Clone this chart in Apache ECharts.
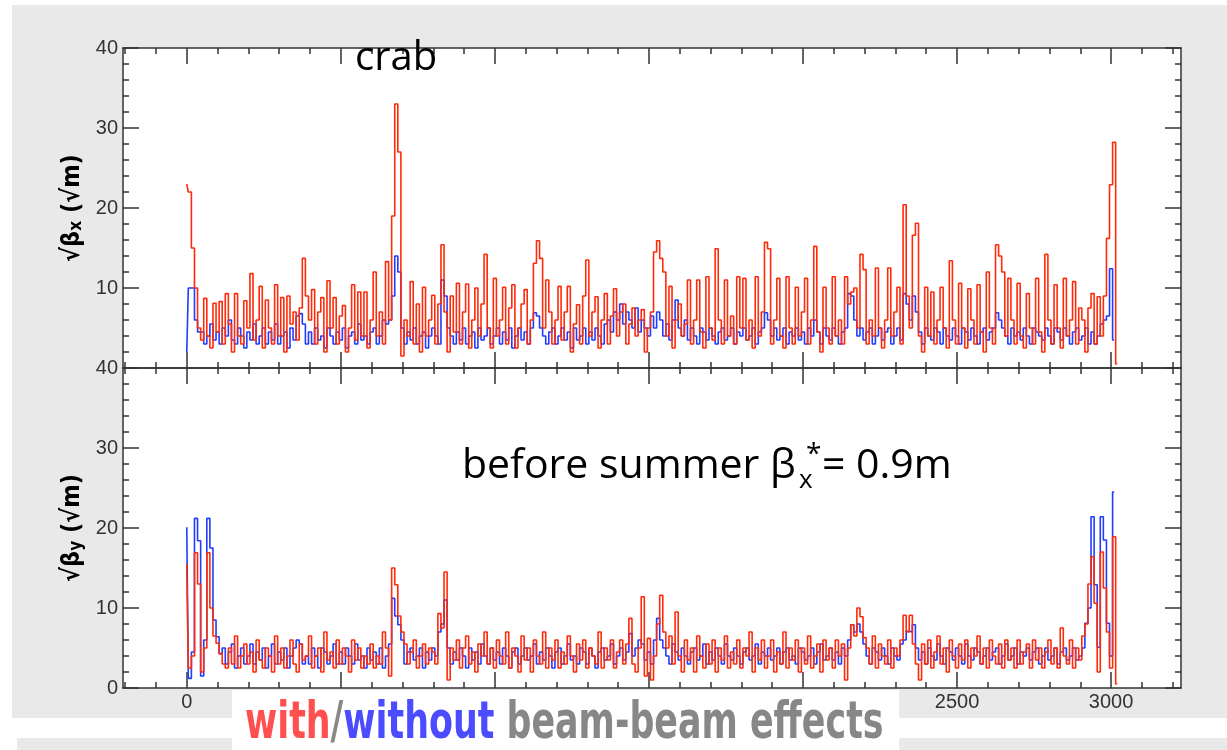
<!DOCTYPE html>
<html><head><meta charset="utf-8">
<script src="https://cdn.jsdelivr.net/npm/echarts@6/dist/echarts.min.js"></script>
<style>html,body{margin:0;padding:0;background:#fff}#c{width:1227px;height:750px}</style>
</head><body><div id="c"></div>
<script>
// sampling step along s (one value every STEP units, starting at 0)
const STEP = 10;

// sqrt(beta_x), with beam-beam (red)
const redX = [
23, 22, 15, 10, 5, 3.5, 8.7, 4, 2.5, 8.1,
4.5, 8.3, 3, 9.3, 5.5, 2, 9.3, 4, 3, 8.4,
5, 11.8, 3.5, 6, 10.2, 2.5, 8.5, 5, 3, 10.4,
4, 8.8, 2, 9, 5.5, 7, 3.5, 7.5, 13.7, 9,
6, 9.8, 3, 7, 8.8, 2, 10.9, 5, 8.8, 3,
6.5, 7.8, 2, 5, 10.4, 3.5, 9.5, 4, 9.5, 2.5,
6, 12, 4, 7, 3, 13.3, 6, 19, 33, 27,
1.5, 6, 4, 10.8, 3, 8, 2, 10.1, 4, 6,
9.1, 3, 8, 15.4, 7, 2, 9, 4.5, 10.6, 3,
7, 10.5, 2.5, 6, 10, 4, 8, 14.2, 5, 2.5,
11.2, 4, 6, 10.1, 3, 7.5, 10.4, 2.5, 5, 8,
9.8, 3, 6, 13.1, 15.9, 13.7, 5, 11, 7, 3,
6, 10.2, 3.5, 7, 10.2, 2, 5.5, 7.9, 3, 9,
13.5, 4, 7, 8.9, 2.5, 6, 9.3, 3, 6.5, 9.9,
4, 7, 8, 3, 5.5, 7.5, 4, 6, 7.3, 2,
5, 7, 14.5, 15.9, 13.7, 12, 4, 10.2, 2.5, 6,
8, 4, 5.5, 11, 3, 6, 11, 4.5, 2.5, 11.4,
5, 3.5, 14.9, 6, 3, 11, 4, 6.5, 3, 11.4,
5, 11.2, 3.5, 6, 2.5, 11.4, 4, 7, 15.7, 14.9,
3, 6, 11.2, 4, 2.5, 11.4, 5, 3, 10.1, 4,
7, 11.2, 3, 6, 15.2, 4.5, 2, 10.1, 5, 3,
11.4, 4, 6, 3, 11.4, 8, 9.5, 10, 5, 14.2,
12.3, 3, 6, 4, 12.5, 5, 2.5, 6, 12.5, 4,
7, 10.1, 3, 20.4, 9, 5, 16.6, 18.1, 4, 2,
10.1, 4, 9.5, 3, 6, 10.1, 5, 2.5, 13.4, 6,
3, 10.6, 5, 2.5, 9.9, 6, 3, 10.4, 4.5, 2,
12, 5, 3, 15.4, 14, 12, 4, 11.2, 6, 3,
10.6, 4, 2.5, 9.3, 5, 3, 11.2, 4.5, 2, 14.2,
6, 3, 10.4, 5, 2.5, 11.2, 4, 6, 10.8, 3,
7.5, 6, 2, 7.5, 9.3, 3, 8.9, 4, 9, 16.2,
22.9, 28.2, 0.5
];

// sqrt(beta_x), without beam-beam (blue)
const blueX = [
2, 10, 10, 6, 4.5, 4.5, 3, 4, 5.5, 3.5,
4.5, 3, 5, 4, 6, 3.5, 3, 5, 4, 2.5,
4.5, 3.5, 5.5, 3, 4, 5, 3, 4.5, 3.5, 5.5,
3, 4, 4.5, 2.5, 5, 3.5, 6.5, 6.8, 5.5, 3,
4.5, 3, 5, 3.5, 4, 2.5, 5, 4, 3, 4.5,
3.5, 5, 2.5, 4, 4.5, 3, 5.5, 3.5, 4, 3,
4.5, 5, 3, 4, 6, 5.5, 6, 9, 14, 12,
5, 3, 4.5, 3.5, 5, 3, 4, 4.5, 2.5, 4,
5, 4, 3, 11, 9, 5, 4, 3, 4.5, 3.5,
5, 3, 4, 4.5, 2.5, 5, 3.5, 4, 5, 3,
4, 5, 3, 4.5, 3.5, 5, 2.5, 4, 5, 3.5,
4.5, 3, 5, 6.9, 6.5, 5, 4, 3, 4.5, 5,
3, 4, 5, 3.5, 4.5, 2.5, 5, 3.5, 4, 5,
3, 4.5, 3.5, 5, 4, 3, 5.5, 6, 4.5, 7,
6, 8, 5.5, 7, 6, 5, 7.5, 4.5, 6, 5,
4, 6.5, 5, 7, 6, 4, 5.5, 3.5, 6, 8.5,
5, 4, 6, 3.5, 5, 4, 3, 5, 4.5, 3.5,
5, 4, 3, 4.5, 5, 3.5, 4, 5, 3, 4.5,
4, 5, 3.5, 4, 5, 3, 4.5, 5, 6.9, 6,
4, 5, 3.5, 4, 5, 3, 4.5, 4, 5, 3.5,
4.5, 3, 5, 4, 6, 4.5, 3, 5, 4, 3.5,
5, 4, 3, 4.5, 5, 9.3, 9, 6, 4, 5,
3.5, 4.5, 5, 3, 4, 5, 3.5, 4.5, 5, 3,
4, 5, 3.5, 9.3, 8, 6, 9, 7, 4.5, 3,
5, 4, 3.5, 5, 4.5, 3, 5, 4, 3.5, 5,
4, 3, 5, 4.5, 3.5, 5, 4, 3, 4.5, 5,
3.5, 4.5, 5, 6.9, 6, 5, 4, 3, 5, 4,
4.5, 3.5, 5, 4, 3, 5, 4.5, 4, 3.5, 5,
4, 3, 5, 4.5, 3.5, 5, 4, 3, 4.5, 5,
3.5, 4, 5, 3, 4.5, 3, 4, 5.5, 6, 6.5,
12.4, 3.5
];

// sqrt(beta_y), with beam-beam (red)
const redY = [
15.5, 2.5, 4, 16.9, 13, 2, 5, 16.9, 10, 6.5,
5.6, 4.3, 3, 2.5, 5, 3, 6.5, 2.5, 4, 5.5,
3, 4.5, 2, 6, 3.5, 2.5, 5, 4, 2, 6.5,
3, 5, 2.5, 4, 6, 3, 2, 5.5, 3.5, 4,
6.5, 2.5, 4, 5, 2, 7, 3.5, 4.5, 2.5, 6,
3, 5, 4, 2, 6, 3.5, 5, 2.5, 4, 3,
5.5, 2.5, 4, 3, 7, 5, 1.5, 15, 12.9, 9,
7, 5.5, 3, 4.5, 6, 2.5, 4, 5.5, 3, 5,
4.5, 3, 9.3, 7.5, 14.5, 1, 5, 3.5, 6, 2.5,
5, 6.5, 3, 4.5, 2, 5.5, 4, 7, 3, 5,
2.5, 6, 4, 3, 7, 2.5, 5, 4, 2, 6.5,
3.5, 5, 2, 6, 4, 3, 7, 2.5, 5, 3.5,
6, 2.5, 4.5, 3, 6.5, 4, 2, 5.5, 3.5, 6,
2.5, 5, 4, 3, 7, 2.5, 5, 3.5, 6, 2.5,
4.5, 6, 3, 5.5, 8.7, 3, 2, 5, 11.4, 1.5,
6.2, 1, 4, 8, 11.6, 7, 5, 6.5, 3, 9.5,
4, 2, 6, 3.5, 5, 2, 6.5, 4, 2.5, 5.5,
3, 6, 2, 5, 3.5, 6.5, 2.5, 4.5, 3, 6,
2.5, 5, 4, 7, 2, 5, 3.5, 6, 2.5, 4,
6, 2, 4.5, 3, 7, 2.5, 5, 3.5, 6, 2,
5, 3, 6.5, 2.5, 4, 5.5, 2, 6, 3.5, 5,
2.5, 6, 4, 5.5, 1, 5, 7.9, 6.5, 10, 8.9,
6.3, 5, 3, 6.5, 2.5, 5.5, 4, 3, 6, 2.5,
5, 4, 6, 9.1, 7, 9.1, 5.5, 3, 1, 5.5,
3, 6, 2.5, 4.5, 6.5, 3, 5, 2, 6, 4,
2.5, 5.5, 3.5, 6, 2.5, 5, 4, 6.5, 3, 5,
2.5, 6, 4, 3, 5.5, 2.5, 6, 3.5, 5, 2.5,
6, 3, 4.5, 5.5, 2.5, 6, 3.5, 5, 2.5, 4.5,
6, 3, 5, 2.5, 7.5, 4, 3, 6, 2.5, 5,
3.5, 6.5, 8, 13, 16.4, 10.6, 2, 17, 12.5, 7,
2.5, 18.9, 0.5
];

// sqrt(beta_y), without beam-beam (blue)
const blueY = [
20.1, 1.2, 4.5, 21.2, 18.4, 1.5, 6, 21.2, 17.5, 8.5,
6.4, 4.3, 5, 3, 4.5, 5.5, 2.5, 4, 5, 3,
4, 5.5, 3, 4.5, 3.5, 5, 2.5, 4, 5.5, 3,
4.5, 3.5, 5, 2.5, 4, 5, 6, 5.5, 3, 4,
3, 5, 4, 2.5, 5, 4.5, 3, 4, 5.5, 3,
4.5, 3, 5, 4, 3, 5.5, 3.5, 4, 2.5, 5,
3.5, 4.5, 3, 5, 2.5, 4, 5.5, 11.2, 9, 7.9,
6, 3, 4.5, 5, 3.5, 4, 5, 2.5, 4.5, 3.5,
5, 4, 7, 8, 11, 5, 3, 4.5, 3.5, 5,
4, 2.5, 5, 3.5, 4.5, 3, 5.5, 4, 3, 5,
3.5, 4.5, 3, 5, 4, 2.5, 4.5, 5, 3, 4,
5, 3.5, 4, 5.5, 3, 4.5, 3.5, 5, 4, 2.5,
4.5, 5, 3, 4, 5.5, 3.5, 4, 3, 5, 4.5,
3, 5, 4, 2.5, 4.5, 5, 3.5, 4, 5.5, 3,
4, 5, 3.5, 4.5, 6.8, 4, 5, 6, 5.5, 3.5,
4.5, 3, 6, 8.7, 6, 5, 4, 3, 5.5, 4.5,
3.5, 5, 4, 3, 4.5, 5, 3.5, 4, 5.5, 3,
4.5, 3.5, 5, 4, 3, 5.5, 4, 3.5, 5, 4,
3, 4.5, 5, 3.5, 4, 5.5, 3, 4.5, 4, 5,
3.5, 4, 5, 3, 4.5, 5, 3.5, 4, 3, 5,
4.5, 3.5, 4, 5, 3, 4.5, 5.5, 3.5, 4, 5,
3.5, 4.5, 3, 5, 4, 6, 7.9, 7, 8, 7,
5.5, 4, 3, 5, 4.5, 3.5, 5, 4, 3, 5,
4, 3.5, 5.5, 6, 7.1, 7, 7.9, 5, 3.5, 4.5,
3, 5, 4, 3.5, 5.5, 4, 3, 5, 4.5, 3.5,
5, 4, 3, 5.5, 4, 3.5, 5, 4.5, 3, 4,
5, 3.5, 4.5, 5, 3, 4, 5.5, 3.5, 4, 5,
3, 4.5, 4, 5, 3.5, 4.5, 5, 3, 4, 5,
3.5, 4, 5, 3, 4.5, 5, 3.5, 4, 5, 3.5,
4, 5, 8.1, 10, 21.4, 12.9, 5.1, 21.4, 18.5, 8.1,
4, 24.5
];

// axis ticks / labels
const xMajorTicks = [0, 500, 1000, 1500, 2000, 2500, 3000];
const yTickLabels = [0, 10, 20, 30, 40];
const X_MIN = -207, X_MAX = 3227;
const xMinorTicks = [];
for (let v = -200; v <= 3200; v += 100) xMinorTicks.push(v);

const toPairs = arr => arr.map((v, i) => [i * STEP, v]);

const AX = '#333';
const RED = '#ff2a0a';
const BLUE = '#1f3cff';
const LABEL_FONT = { fontSize: 20, color: '#333', fontFamily: 'Liberation Sans' };

function xAx(grid, pos, major, showLabel) {
  return {
    type: 'value', gridIndex: grid, position: pos, min: X_MIN, max: X_MAX,
    axisLine: { show: major, onZero: false, lineStyle: { color: AX, width: 1.5 } },
    axisTick: { show: true, inside: true, length: major ? 16 : 6,
      customValues: major ? xMajorTicks : xMinorTicks, lineStyle: { color: AX, width: 1.5 } },
    axisLabel: Object.assign({ show: showLabel, customValues: xMajorTicks, margin: 4,
      formatter: v => String(v) }, LABEL_FONT),
    splitLine: { show: false }
  };
}

const NAME_FONT = '"DejaVu Sans Condensed", "DejaVu Sans"';
const nameRich = {
  a: { fontSize: 25, fontWeight: 'bold', fontFamily: NAME_FONT, color: '#000' },
  s: { fontSize: 17, fontWeight: 'bold', fontFamily: NAME_FONT, color: '#000', verticalAlign: 'bottom', padding: [8, 0, 0, 0] }
};

function yAx(grid, pos, showLabel, name) {
  return {
    type: 'value', gridIndex: grid, position: pos, min: 0, max: 40, interval: 10,
    axisLine: { show: true, onZero: false, lineStyle: { color: AX, width: 1.5 } },
    axisTick: { show: true, inside: true, length: 16, lineStyle: { color: AX, width: 1.5 } },
    minorTick: { show: true, splitNumber: 5, length: 6, lineStyle: { color: AX, width: 1.5 } },
    axisLabel: Object.assign({ show: showLabel, margin: 5,
      formatter: v => (grid === 0 && v === 0) ? '' : String(v) }, LABEL_FONT),
    splitLine: { show: false },
    name: name || '', nameLocation: 'middle', nameRotate: 90, nameGap: 36,
    nameTextStyle: { rich: nameRich }
  };
}

function line(data, color, xi, yi, z) {
  return {
    type: 'line', data: toPairs(data), xAxisIndex: xi, yAxisIndex: yi,
    step: 'middle', symbol: 'none', silent: true, z: z,
    lineStyle: { color: color, width: 1.6 }, itemStyle: { color: color }
  };
}

const chart = echarts.init(document.getElementById('c'), null, { renderer: 'canvas' });
chart.setOption({
  animation: false,
  backgroundColor: '#e9e9e9',
  grid: [
    { left: 123, top: 48, width: 1058, height: 320, show: true, backgroundColor: '#fff', borderWidth: 0 },
    { left: 123, top: 368, width: 1058, height: 320, show: true, backgroundColor: '#fff', borderWidth: 0 }
  ],
  xAxis: [
    xAx(0, 'bottom', true, false), xAx(0, 'bottom', false, false),
    xAx(0, 'top', true, false), xAx(0, 'top', false, false),
    xAx(1, 'bottom', true, true), xAx(1, 'bottom', false, false),
    xAx(1, 'top', true, false), xAx(1, 'top', false, false)
  ],
  yAxis: [
    yAx(0, 'left', true, '{a|√β}{s|x}{a| (√m)}'), yAx(0, 'right', false),
    yAx(1, 'left', true, '{a|√β}{s|y}{a| (√m)}'), yAx(1, 'right', false)
  ],
  series: [
    line(blueX, BLUE, 0, 0, 2),
    line(redX, RED, 0, 0, 3),
    line(blueY, BLUE, 4, 2, 2),
    line(redY, RED, 4, 2, 3)
  ],
  graphic: [
    { type: 'rect', shape: { x: 0, y: 0, width: 1227, height: 5 }, style: { fill: '#fff' }, z: 50 },
    { type: 'rect', shape: { x: 0, y: 0, width: 12, height: 750 }, style: { fill: '#fff' }, z: 50 },
    { type: 'rect', shape: { x: 0, y: 718, width: 1227, height: 20 }, style: { fill: '#fff' }, z: 50 },
    { type: 'rect', shape: { x: 0, y: 738, width: 17, height: 12 }, style: { fill: '#fff' }, z: 50 },
    { type: 'rect', shape: { x: 232, y: 690, width: 667, height: 60 }, style: { fill: '#fff' }, z: 100 },
    { type: 'text', x: 245, y: 724, scaleX: 0.745, z: 101,
      style: {
        text: '{r|with}{g|/}{b|without}{g| beam-beam effects}',
        verticalAlign: 'middle',
        font: 'bold 52px "DejaVu Sans Condensed"',
        rich: {
          r: { fill: '#ff4f4f', fontSize: 52, fontWeight: 'bold', fontFamily: NAME_FONT },
          g: { fill: '#878787', fontSize: 52, fontWeight: 'bold', fontFamily: NAME_FONT },
          b: { fill: '#4b4bff', fontSize: 52, fontWeight: 'bold', fontFamily: NAME_FONT }
        }
      } },
    { type: 'text', x: 355, y: 59, z: 60,
      style: { text: 'crab', font: '40px "Open Sans"', fill: '#000', verticalAlign: 'middle' } },
    { type: 'text', x: 462, y: 466, z: 60,
      style: { text: 'before summer β', font: '41px "Open Sans"', fill: '#000', verticalAlign: 'middle' } },
    { type: 'text', x: 799, y: 481, z: 60,
      style: { text: 'x', font: '26px "Open Sans"', fill: '#000', verticalAlign: 'middle' } },
    { type: 'text', x: 806, y: 455, z: 60,
      style: { text: '*', font: '28px "Open Sans"', fill: '#000', verticalAlign: 'middle' } },
    { type: 'text', x: 822, y: 466, z: 60,
      style: { text: '= 0.9m', font: '41px "Open Sans"', fill: '#000', verticalAlign: 'middle' } }
  ]
});
</script>
</body></html>
